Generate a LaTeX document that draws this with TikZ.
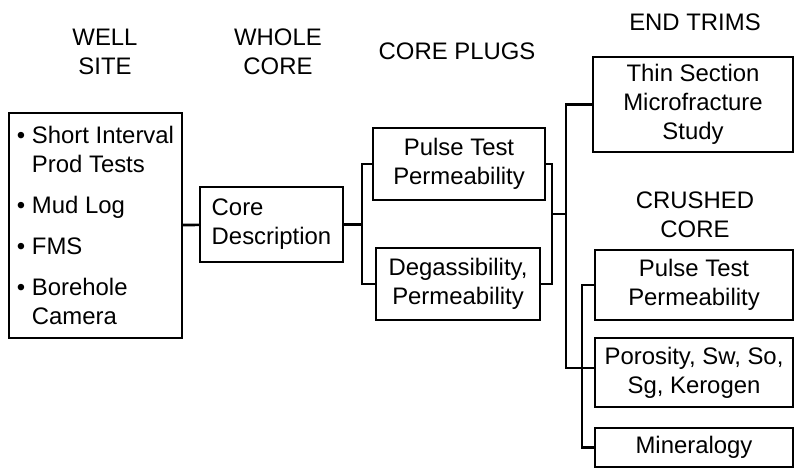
\documentclass[tikz,border=0pt]{standalone}
\usepackage{fontspec}
\setmainfont{Liberation Sans}
\usepackage{tikz}
\usetikzlibrary{positioning,calc}

\begin{document}
\begin{tikzpicture}[x=0.02cm, y=-0.02cm, line width=1.5pt, font=\fontsize{13.6}{16.5}\selectfont]
        \tikzstyle{box}=[rectangle, draw, inner sep=0pt, outer sep=0pt, align=center]
        \tikzstyle{head}=[align=center, inner sep=0pt]
        \useasboundingbox (0,0) rectangle (795,469);
        \node[head] (hwell)  at (105,52)  {WELL\\SITE};
        \node[head] (hwhole) at (278,52)  {WHOLE\\CORE};
        \node[head] (hplugs) at (457,51)  {CORE PLUGS};
        \node[head] (htrims) at (695,22)  {END TRIMS};
        \node[head] (hcrush) at (695,215) {CRUSHED\\CORE};
        \node[box, align=left, minimum width=3.46cm, minimum height=4.5cm] (well) at (95.5,225.5)
            {\textbullet\ Short Interval\\\hphantom{\textbullet\ }Prod Tests\\[7pt]
             \textbullet\ Mud Log\\[7pt]
             \textbullet\ FMS\\[7pt]
             \textbullet\ Borehole\\\hphantom{\textbullet\ }Camera};
        \node[box, align=left, minimum width=2.86cm, minimum height=1.5cm] (whole) at (271.5,224.5) {Core\\Description};
        \node[box, minimum width=3.44cm, minimum height=1.44cm] (plugA) at (459,164) {Pulse Test\\Permeability};
        \node[box, minimum width=3.28cm, minimum height=1.44cm] (plugB) at (458,284) {Degassibility,\\Permeability};
        \node[box, minimum width=4cm, minimum height=1.9cm] (trim) at (693,104.5) {Thin Section\\Microfracture\\Study};
        \node[box, minimum width=3.96cm, minimum height=1.4cm] (crushA) at (694,285) {Pulse Test\\Permeability};
        \node[box, minimum width=3.96cm, minimum height=1.38cm] (crushB) at (694,372.5) {Porosity, Sw, So,\\Sg, Kerogen};
        \node[box, minimum width=3.96cm, minimum height=0.78cm] (crushC) at (694,447.5) {Mineralogy};
        \coordinate (j1) at (362,224.5);
        \coordinate (j2) at (552,214);
        \coordinate (j3) at (566,214);
        \coordinate (j4) at (582,368);
        \draw (well) -- (whole);
        \draw (whole) -- (j1);
        \draw (plugA.west) -| (j1) |- (plugB.west);
        \draw (plugA.east) -| (j2) |- (plugB.east);
        \draw (j2) -- (j3);
        \draw (trim.west) -| (j3) |- ([yshift=0.09cm]crushB.west);
        \draw (crushA.west) -| (j4) |- (crushC.west);
      \end{tikzpicture}
\end{document}
